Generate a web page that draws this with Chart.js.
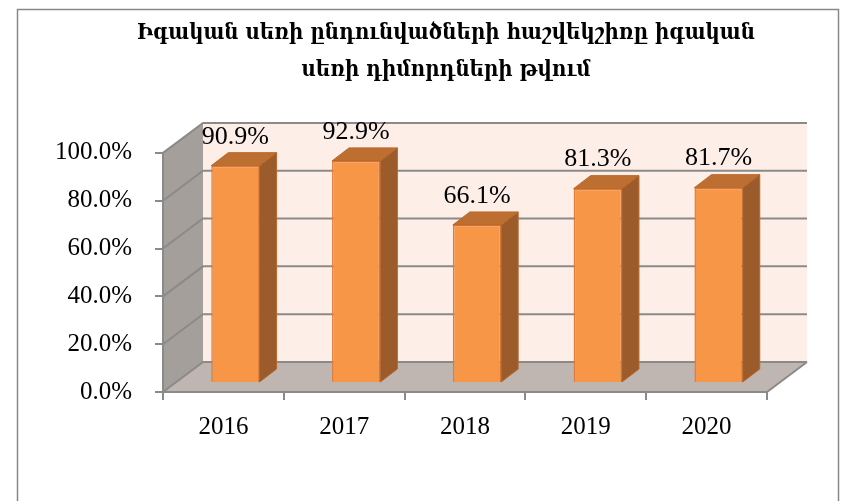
<!DOCTYPE html>
<html>
<head>
<meta charset="utf-8">
<script src="https://cdn.jsdelivr.net/npm/chart.js@4.4.1/dist/chart.umd.min.js"></script>
<style>
  html, body { margin: 0; padding: 0; background: #fff; }
  #wrap { width: 847px; height: 501px; }
</style>
</head>
<body>
<div id="wrap"><canvas id="myChart" width="847" height="501"></canvas></div>
<script>
// data
const years = ['2016', '2017', '2018', '2019', '2020'];
const shares = [90.9, 92.9, 66.1, 81.3, 81.7];
const yTicks = [0, 20, 40, 60, 80, 100];
const titleLines = [
    'Իգական սեռի ընդունվածների հաշվեկշիռը իգական',
    'սեռի դիմորդների թվում'
];

// 3d look: back wall offset, bar shift and bar depth
const wallDx = 40, wallDy = -30;
const barShiftX = 12, barShiftY = -9;
const barDx = 17, barDy = -13;
const gridColor = '#8a8a8a';

const walls = {
    id: 'walls',
    beforeDraw(chart) {
        const { ctx, chartArea: a, scales: { y } } = chart;
        ctx.save();
        ctx.fillStyle = '#fff';
        ctx.fillRect(0, 0, chart.width, chart.height);
        // outer frame
        ctx.strokeStyle = '#888';
        ctx.lineWidth = 1.5;
        ctx.strokeRect(17.5, 9.5, 821, 500);
        // back wall
        ctx.fillStyle = '#fdeee8';
        ctx.fillRect(a.left + wallDx, a.top + wallDy, a.right - a.left, a.bottom - a.top);
        // left wall
        ctx.fillStyle = '#a59f9c';
        ctx.beginPath();
        ctx.moveTo(a.left, a.top);
        ctx.lineTo(a.left + wallDx, a.top + wallDy);
        ctx.lineTo(a.left + wallDx, a.bottom + wallDy);
        ctx.lineTo(a.left, a.bottom);
        ctx.closePath();
        ctx.fill();
        // floor
        ctx.fillStyle = '#bfb6b2';
        ctx.beginPath();
        ctx.moveTo(a.left, a.bottom);
        ctx.lineTo(a.right, a.bottom);
        ctx.lineTo(a.right + wallDx, a.bottom + wallDy);
        ctx.lineTo(a.left + wallDx, a.bottom + wallDy);
        ctx.closePath();
        ctx.fill();
        // grid lines on the walls
        ctx.strokeStyle = gridColor;
        ctx.lineWidth = 2;
        yTicks.forEach(v => {
            const py = y.getPixelForValue(v);
            ctx.beginPath();
            ctx.moveTo(a.left, py);
            ctx.lineTo(a.left + wallDx, py + wallDy);
            ctx.lineTo(a.right + wallDx, py + wallDy);
            ctx.stroke();
        });
        ctx.beginPath();
        ctx.moveTo(a.right, a.bottom);
        ctx.lineTo(a.right + wallDx, a.bottom + wallDy);
        ctx.stroke();
        ctx.restore();
    },
    beforeDatasetsDraw(chart) {
        chart.ctx.save();
        chart.ctx.translate(barShiftX, barShiftY);
    },
    afterDatasetsDraw(chart) {
        const ctx = chart.ctx;
        const meta = chart.getDatasetMeta(0);
        meta.data.forEach((bar, i) => {
            const { x, y, base, width } = bar.getProps(['x', 'y', 'base', 'width'], true);
            const l = x - width / 2, r = x + width / 2;
            ctx.lineWidth = 1;
            ctx.strokeStyle = '#b8672b';
            // side
            ctx.fillStyle = '#9c5b2a';
            ctx.beginPath();
            ctx.moveTo(r, y);
            ctx.lineTo(r + barDx, y + barDy);
            ctx.lineTo(r + barDx, base + barDy);
            ctx.lineTo(r, base);
            ctx.closePath();
            ctx.fill();
            ctx.stroke();
            // top
            ctx.fillStyle = '#bd6f31';
            ctx.beginPath();
            ctx.moveTo(l, y);
            ctx.lineTo(l + barDx, y + barDy);
            ctx.lineTo(r + barDx, y + barDy);
            ctx.lineTo(r, y);
            ctx.closePath();
            ctx.fill();
            ctx.stroke();
            // value label
            ctx.fillStyle = '#000';
            ctx.font = '26px "Liberation Serif"';
            ctx.textAlign = 'center';
            ctx.textBaseline = 'middle';
            ctx.fillText(shares[i].toFixed(1) + '%', x, y + barDy - 16);
        });
        ctx.restore();
    }
};

const ctx = document.getElementById('myChart').getContext('2d');
const myChart = new Chart(ctx, {
    type: 'bar',
    data: {
        labels: years,
        datasets: [{
            data: shares,
            backgroundColor: '#f79646',
            borderColor: '#e07b39',
            borderWidth: 1.5,
            categoryPercentage: 1,
            barPercentage: 0.4,
            clip: false
        }]
    },
    options: {
        responsive: false,
        animation: false,
        // left padding + empty right axis keep the title centred on the frame
        layout: { padding: { left: 45, right: 0, top: 0, bottom: 0 } },
        plugins: {
            legend: { display: false },
            tooltip: { enabled: false },
            title: {
                display: true,
                text: titleLines,
                color: '#000',
                font: { family: '"DejaVu Serif Condensed", "DejaVu Serif"', size: 22, weight: 'bold', lineHeight: 1.68 },
                padding: { top: 15, bottom: 64 }
            }
        },
        scales: {
            x: {
                afterFit(scale) { scale.height = 109; },
                grid: { drawOnChartArea: false, tickLength: 8, color: gridColor, lineWidth: 2 },
                border: { display: true, color: gridColor, width: 2 },
                ticks: { color: '#000', padding: 12, font: { family: 'Liberation Serif', size: 25 } }
            },
            y: {
                min: 0,
                max: 100,
                afterFit(scale) { scale.width = 118; },
                afterBuildTicks(scale) { scale.ticks = yTicks.map(v => ({ value: v })); },
                grid: { drawOnChartArea: false, tickLength: 8, color: gridColor, lineWidth: 2 },
                border: { display: true, color: gridColor, width: 2 },
                ticks: {
                    color: '#000',
                    padding: 23,
                    font: { family: 'Liberation Serif', size: 25 },
                    callback: v => v.toFixed(1) + '%'
                }
            },
            spacer: {
                type: 'linear',
                position: 'right',
                min: 0,
                max: 100,
                afterFit(scale) { scale.width = 80; },
                grid: { display: false },
                border: { display: false },
                ticks: { display: false }
            }
        }
    },
    plugins: [walls]
});
</script>
</body>
</html>
